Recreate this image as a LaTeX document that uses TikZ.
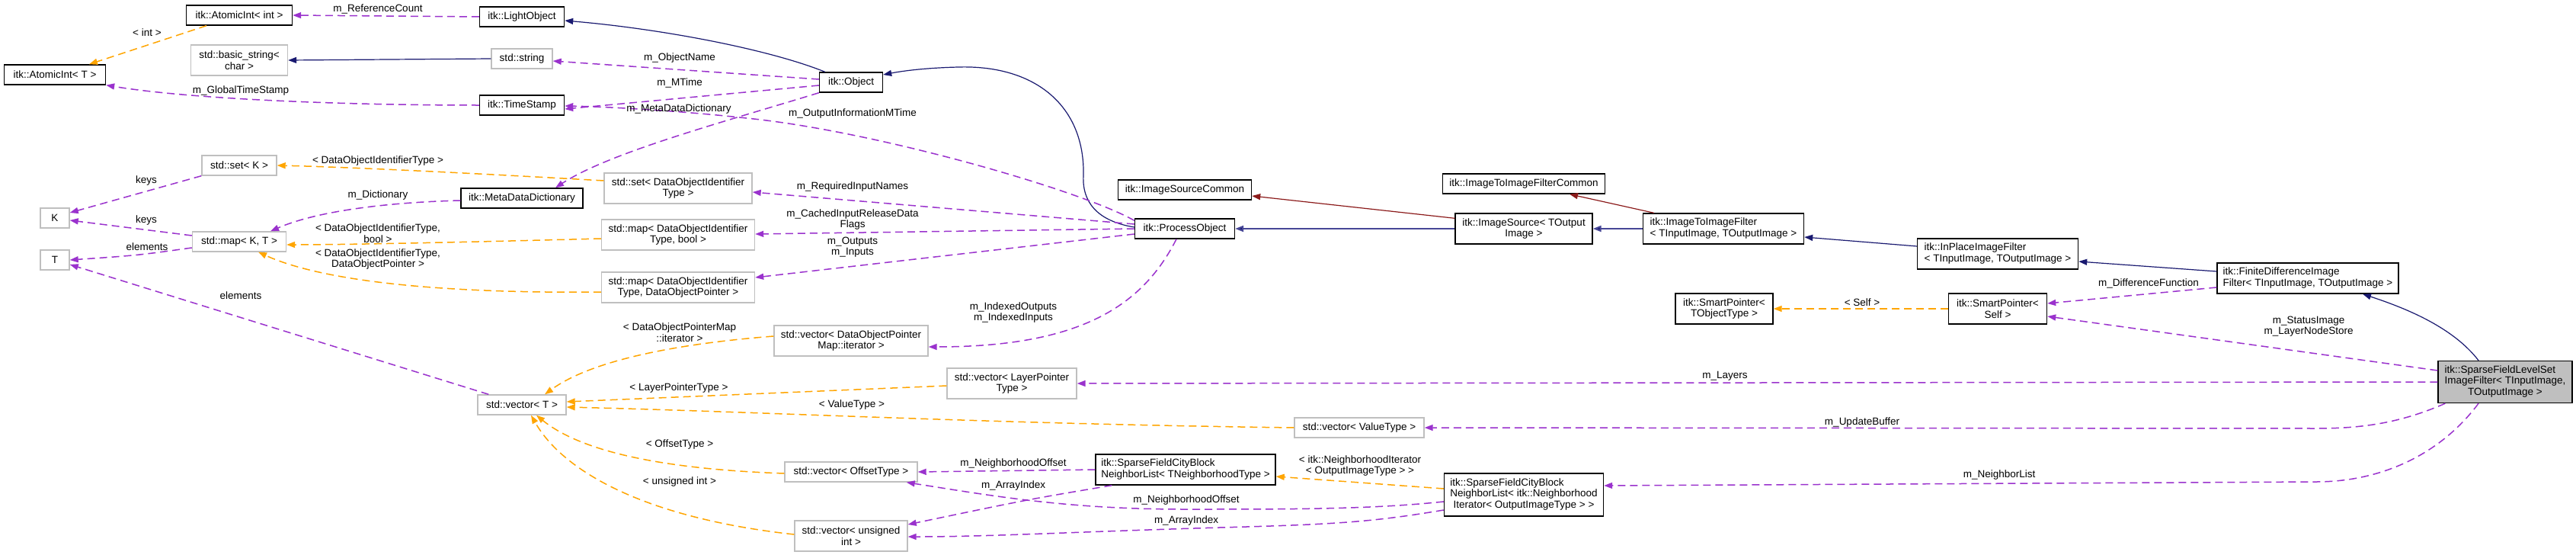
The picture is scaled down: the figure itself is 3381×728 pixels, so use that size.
\documentclass[tikz,border=0pt]{standalone}
\usepackage{fontspec}
\setmainfont{Liberation Sans}
\usetikzlibrary{arrows.meta}
\definecolor{navyc}{RGB}{25,25,112}
\definecolor{navyl}{RGB}{70,70,150}
\definecolor{redc}{RGB}{139,26,26}
\definecolor{orangec}{RGB}{255,165,0}
\definecolor{purplec}{RGB}{154,50,205}
\definecolor{grayb}{RGB}{191,191,191}
\definecolor{mainfill}{RGB}{191,191,191}
\newcommand{\lftlines}[1]{\begin{tabular}{@{}l@{}}#1\end{tabular}}
\begin{document}
\begin{tikzpicture}[x=1pt,y=-1pt,
  every node/.style={font=\fontsize{13.5}{14.5}\selectfont, inner sep=0pt},
  box/.style 2 args={line width=1.4pt, fill=white, minimum width=#1 pt, minimum height=#2 pt, align=center},
  doc/.style={draw=black},
  und/.style={draw=grayb},
  lbl/.style={align=center},
  tipa/.style={-{Triangle[length=11pt,width=8pt]}},
  pub/.style={draw=navyc, line width=1.2pt, tipa},
  pubthick/.style={draw=navyl, line width=2pt, -{Triangle[length=11pt,width=8pt,fill=navyc]}},
  prv/.style={draw=redc, line width=1.2pt, tipa},
  tpl/.style={draw=orangec, line width=1.5pt, dash pattern=on 10pt off 6pt, tipa},
  mem/.style={draw=purplec, line width=1.5pt, dash pattern=on 10pt off 6pt, tipa}
]
\fill[white] (0,0) rectangle (3381,728);
\useasboundingbox (0,0) rectangle (3381,728);

% nodes
\node[box={133}{26},doc] (ait) at (72,98) {itk::AtomicInt< T >};
\node[box={38}{26},und] (K) at (72,286) {K};
\node[box={38}{26},und] (T) at (72,341) {T};
\node[box={139}{26},doc] (aii) at (314,20) {itk::AtomicInt< int >};
\node[box={127}{40},und] (bstr) at (314,79) {std::basic\_string<\\char >};
\node[box={98}{26},und] (setk) at (314,217) {std::set< K >};
\node[box={123}{26},und] (mapkt) at (314,317) {std::map< K, T >};
\node[box={111}{26},doc] (lo) at (685,22) {itk::LightObject};
\node[box={80}{26},und] (str) at (685,77) {std::string};
\node[box={111}{26},doc] (ts) at (685,138) {itk::TimeStamp};
\node[box={160}{26},doc] (mdd) at (685,260) {itk::MetaDataDictionary};
\node[box={116}{26},und] (vect) at (685,531) {std::vector< T >};
\node[box={83}{26},doc] (obj) at (1117,108) {itk::Object};
\node[box={194}{40},und] (setdoi) at (890,247) {std::set< DataObjectIdentifier\\Type >};
\node[box={201}{40},und] (mapb) at (890,308) {std::map< DataObjectIdentifier\\Type, bool >};
\node[box={201}{40},und] (mapdop) at (890,377) {std::map< DataObjectIdentifier\\Type, DataObjectPointer >};
\node[box={202}{40},und] (vecdopm) at (1117,447) {std::vector< DataObjectPointer\\Map::iterator >};
\node[box={174}{26},und] (veco) at (1117,619) {std::vector< OffsetType >};
\node[box={148}{40},und] (vecu) at (1117,703) {std::vector< unsigned\\int >};
\node[box={170}{40},und] (vecl) at (1328,503) {std::vector< LayerPointer\\Type >};
\node[box={175}{26},doc] (isc) at (1555,249) {itk::ImageSourceCommon};
\node[box={131}{26},doc] (po) at (1555,300) {itk::ProcessObject};
\node[box={236}{40},doc] (nl1) at (1556,616) {\lftlines{itk::SparseFieldCityBlock\\NeighborList< TNeighborhoodType >}};
\node[box={170}{26},und] (vecv) at (1784,561) {std::vector< ValueType >};
\node[box={213}{26},doc] (itifc) at (2000,241) {itk::ImageToImageFilterCommon};
\node[box={180}{40},doc] (is) at (2000,300) {itk::ImageSource< TOutput\\Image >};
\node[box={209}{56},doc] (nl2) at (2000,649) {\lftlines{itk::SparseFieldCityBlock\\NeighborList< itk::Neighborhood\\\multicolumn{1}{@{}c@{}}{Iterator< OutputImageType > >}}};
\node[box={211}{40},doc] (itif) at (2262,300) {\lftlines{itk::ImageToImageFilter\\< TInputImage, TOutputImage >}};
\node[box={128}{40},doc] (spt) at (2263,405) {itk::SmartPointer<\\TObjectType >};
\node[box={211}{40},doc] (ipf) at (2622,333) {\lftlines{itk::InPlaceImageFilter\\< TInputImage, TOutputImage >}};
\node[box={129}{40},doc] (sps) at (2622,405) {itk::SmartPointer<\\Self >};
\node[box={238}{40},doc] (fdi) at (3029,365) {\lftlines{itk::FiniteDifferenceImage\\Filter< TInputImage, TOutputImage >}};
\node[box={176}{55},doc,fill=mainfill] (main) at (3288,501) {\lftlines{itk::SparseFieldLevelSet\\ImageFilter< TInputImage,\\\multicolumn{1}{@{}c@{}}{TOutputImage >}}};

% public inheritance
\draw[pub] ([xshift=8pt]obj.north west) .. controls (1010,65) and (870,38) .. ([yshift=-5pt]lo.east);
\draw[pub] ([yshift=2pt]po.west) .. controls (1440,290) and (1420,265) .. (1422,230) .. controls (1424,140) and (1360,85) .. (1258,88) .. controls (1215,89) and (1185,93) .. ([yshift=10pt]obj.east);
\draw[pub] (str.west) -- (bstr.east);
\draw[pubthick] (is.west) -- (po.east);
\draw[pubthick] (itif.west) -- (is.east);
\draw[pub] ([yshift=10pt]ipf.west) -- ([yshift=-11pt]itif.east);
\draw[pub] ([yshift=9pt]fdi.west) -- ([yshift=-10pt]ipf.east);
\draw[pub] ([xshift=-35pt]main.north) .. controls (3220,430) and (3160,405) .. ([xshift=72pt]fdi.south);
% private inheritance
\draw[prv] ([yshift=-7pt]is.north west) -- ([yshift=-8pt]isc.east);
\draw[prv] ([xshift=15pt]itif.north west) -- ([xshift=60pt]itifc.south);

% template instances
\draw[tpl] ([xshift=-43pt]aii.south) -- ([xshift=45pt]ait.north);
\draw[tpl] ([yshift=10pt]setdoi.west) .. controls (600,226) and (450,219) .. (setk.east);
\draw[tpl] ([yshift=-5pt]mapb.west) .. controls (600,318) and (450,321) .. ([yshift=-4pt]mapkt.east);
\draw[tpl] ([yshift=-6pt]mapdop.west) .. controls (600,385) and (430,372) .. ([xshift=25pt]mapkt.south);
\draw[tpl] ([yshift=6pt]vecdopm.west) .. controls (900,450) and (780,470) .. ([xshift=30pt]vect.north);
\draw[tpl] ([yshift=-3pt]vecl.west) -- ([yshift=4pt]vect.east);
\draw[tpl] (vecv.west) .. controls (1300,556) and (1000,540) .. ([yshift=-3pt]vect.east);
\draw[tpl] ([yshift=-2pt]veco.west) .. controls (860,615) and (760,590) .. ([xshift=19pt]vect.south);
\draw[tpl] ([yshift=2pt]vecu.west) .. controls (850,680) and (740,620) .. ([xshift=12pt]vect.south);
\draw[tpl] (sps.west) -- (spt.east);
\draw[tpl] ([yshift=8pt]nl2.west) -- ([yshift=-9pt]nl1.east);

% members
\draw[mem] (lo.west) -- (aii.east);
\draw[mem] ([yshift=4pt]obj.west) -- ([yshift=-3pt]str.east);
\draw[mem] (ts.west) .. controls (450,138) and (250,130) .. (ait.south east);
\draw[mem] ([yshift=-4pt]obj.west) -- ([yshift=-5pt]ts.east);
\draw[mem] ([yshift=-3pt]po.north west) .. controls (1420,250) and (1150,172) .. (980,155) .. controls (900,146) and (800,140) .. ([yshift=-1pt]ts.east);
\draw[mem] (obj.south west) .. controls (950,160) and (800,200) .. ([xshift=44pt]mdd.north);
\draw[mem] ([yshift=-3pt]mdd.west) .. controls (520,265) and (420,275) .. ([xshift=41pt]mapkt.north);
\draw[mem] (setk.south west) -- ([yshift=7pt]K.east);
\draw[mem] ([yshift=8pt]mapkt.west) .. controls (180,300) .. ([yshift=-3pt]K.east);
\draw[mem] ([yshift=-8pt]mapkt.west) .. controls (180,335) .. (T.east);
\draw[mem] ([xshift=15pt]vect.north west) -- ([yshift=-6pt]T.east);
\draw[mem] ([yshift=6pt]po.west) -- ([yshift=-5pt]setdoi.east);
\draw[mem] (po.west) -- ([yshift=1pt]mapb.east);
\draw[mem] ([yshift=-7pt]po.west) -- ([yshift=13pt]mapdop.east);
\draw[mem] ([xshift=-11pt]po.south) .. controls (1500,400) and (1420,455) .. ([yshift=-8pt]vecdopm.east);
\draw[mem] (main.west) -- (vecl.east);
\draw[mem] ([xshift=10pt]main.south west) .. controls (3150,555) and (3100,562) .. (3040,562) -- (vecv.east);
\draw[mem] ([xshift=-35pt]main.south) .. controls (3200,600) and (3120,632) .. (3040,632) -- ([yshift=12pt]nl2.east);
\draw[mem] ([yshift=-12pt]fdi.west) -- ([yshift=7pt]sps.east);
\draw[mem] ([yshift=15pt]main.west) -- ([yshift=-10pt]sps.east);
\draw[mem] (nl1.west) -- (veco.east);
\draw[mem] ([xshift=22pt]nl1.south west) .. controls (1350,655) .. ([yshift=15pt]vecu.east);
\draw[mem] ([yshift=-9pt]nl2.west) .. controls (1800,668) and (1700,668) .. (1555,668) .. controls (1400,668) and (1300,650) .. ([xshift=-15pt]veco.south east);
\draw[mem] ([yshift=-20pt]nl2.west) .. controls (1800,685) and (1750,688) .. (1600,692) .. controls (1400,698) and (1300,704) .. ([yshift=-1pt]vecu.east);

% labels
\node[lbl] (t1) at (496,12) {m\_ReferenceCount};
\node[lbl] (t2) at (193,43) {< int >};
\node[lbl] (t3) at (892,76) {m\_ObjectName};
\node[lbl] (t4) at (892,109) {m\_MTime};
\node[lbl] (t5) at (316,119) {m\_GlobalTimeStamp};
\node[lbl] (t6) at (891,143) {m\_MetaDataDictionary};
\node[lbl] (t7) at (1119,149) {m\_OutputInformationMTime};
\node[lbl] (t8) at (496,211) {< DataObjectIdentifierType >};
\node[lbl] (t9) at (192,237) {keys};
\node[lbl] (t10) at (1119,245) {m\_RequiredInputNames};
\node[lbl] (t11) at (496,256) {m\_Dictionary};
\node[lbl] (t12) at (1119,288) {m\_CachedInputReleaseData\\Flags};
\node[lbl] (t13) at (192,289) {keys};
\node[lbl] (t14) at (496,306) {< DataObjectIdentifierType,\\bool >};
\node[lbl] (t15) at (193,324) {elements};
\node[lbl] (t16) at (1119,324) {m\_Outputs\\m\_Inputs};
\node[lbl] (t17) at (496,340) {< DataObjectIdentifierType,\\DataObjectPointer >};
\node[lbl] (t18) at (316,388) {elements};
\node[lbl] (t19) at (2444,397) {< Self >};
\node[lbl] (t20) at (1330,410) {m\_IndexedOutputs\\m\_IndexedInputs};
\node[lbl] (t21) at (2820,372) {m\_DifferenceFunction};
\node[lbl] (t22) at (3030,428) {m\_StatusImage\\m\_LayerNodeStore};
\node[lbl] (t23) at (892,436) {< DataObjectPointerMap\\::iterator >};
\node[lbl] (t24) at (2264,493) {m\_Layers};
\node[lbl] (t25) at (891,509) {< LayerPointerType >};
\node[lbl] (t26) at (1118,531) {< ValueType >};
\node[lbl] (t27) at (2444,554) {m\_UpdateBuffer};
\node[lbl] (t28) at (892,583) {< OffsetType >};
\node[lbl] (t29) at (1330,608) {m\_NeighborhoodOffset};
\node[lbl] (t30) at (1785,611) {< itk::NeighborhoodIterator\\< OutputImageType > >};
\node[lbl] (t31) at (2624,623) {m\_NeighborList};
\node[lbl] (t32) at (892,632) {< unsigned int >};
\node[lbl] (t33) at (1330,637) {m\_ArrayIndex};
\node[lbl] (t34) at (1557,656) {m\_NeighborhoodOffset};
\node[lbl] (t35) at (1557,683) {m\_ArrayIndex};
\end{tikzpicture}
\end{document}
